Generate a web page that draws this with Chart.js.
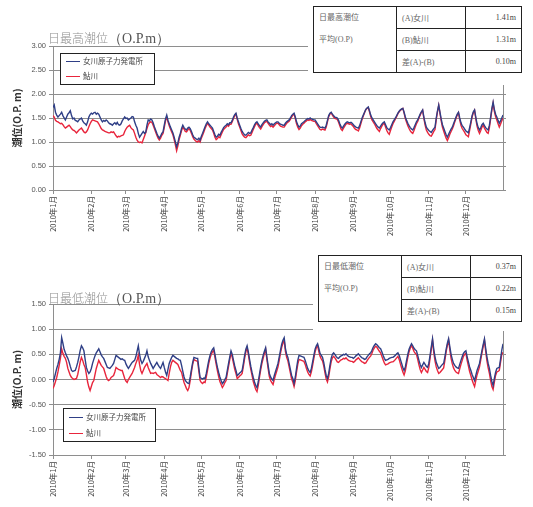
<!DOCTYPE html>
<html>
<head>
<meta charset="utf-8">
<script src="https://cdn.jsdelivr.net/npm/chart.js@4/dist/chart.umd.min.js"></script>
<style>
html,body{margin:0;padding:0;background:#fff;}
body{width:533px;height:507px;position:relative;overflow:hidden;font-family:"Noto Sans CJK JP",sans-serif;}
canvas{position:absolute;left:0;}
#c1{top:0;}
#c2{top:250px;}
.ttl{position:absolute;white-space:nowrap;color:#8f8f8f;line-height:1;}
.ttl .jp{font-size:12px;font-weight:300;font-family:"Noto Sans CJK JP",sans-serif;}
.ttl .op{font-size:14px;font-family:"Liberation Serif","DejaVu Serif",serif;color:#555;}
.mask{position:absolute;background:#fff;}
table.stat{position:absolute;border-collapse:collapse;font-size:8px;color:#666;background:#fff;
  font-family:"Liberation Serif","Noto Sans CJK JP",serif;}
table.stat td{border:1px solid #222;padding:0 5px;height:21px;vertical-align:middle;white-space:nowrap;}
table.stat td.hd{vertical-align:top;line-height:22px;padding-top:0;}
table.stat td.v{text-align:right;color:#444;}
</style>
</head>
<body>
<canvas id="c1" width="533" height="250"></canvas>
<canvas id="c2" width="533" height="257"></canvas>

<div class="mask" style="left:308px;top:3px;width:225px;height:82px;"></div>
<table class="stat" id="t1" style="left:313px;top:6px;width:209px;">
  <tr><td class="hd" rowspan="3" style="width:72px;"><span id="t1h1"></span><br><span id="t1h2"></span></td><td style="width:58px;"></td><td class="v"></td></tr>
  <tr><td></td><td class="v"></td></tr>
  <tr><td></td><td class="v"></td></tr>
</table>

<div class="mask" style="left:313px;top:252px;width:220px;height:79px;"></div>
<table class="stat" id="t2" style="left:318px;top:255px;width:204px;">
  <tr><td class="hd" rowspan="3" style="width:72px;"><span id="t2h1"></span><br><span id="t2h2"></span></td><td style="width:58px;"></td><td class="v"></td></tr>
  <tr><td></td><td class="v"></td></tr>
  <tr><td></td><td class="v"></td></tr>
</table>

<div class="ttl" style="left:48px;top:28px;"><span class="jp">日最高潮位</span><span class="op">（O.P.m）</span></div>
<div class="ttl" style="left:48px;top:288px;"><span class="jp">日最低潮位</span><span class="op">（O.P.m）</span></div>

<script>
// Month boundaries (day of year, 2010) and their axis labels
const monthStarts = [0, 31, 59, 90, 120, 151, 181, 212, 243, 273, 304, 334];
const monthLabels = ['2010年1月','2010年2月','2010年3月','2010年4月','2010年5月','2010年6月',
                     '2010年7月','2010年8月','2010年9月','2010年10月','2010年11月','2010年12月'];

const seriesNames = ['女川原子力発電所', '鮎川'];

// Daily highest tide level (O.P. m), 2010
const highOnagawa = [
1.72,1.77,1.62,1.56,1.52,1.55,1.58,1.62,1.55,1.50,
1.46,1.52,1.58,1.61,1.65,1.55,1.48,1.50,1.45,1.44,
1.42,1.46,1.48,1.50,1.44,1.40,1.38,1.35,1.42,1.52,
1.57,1.60,1.58,1.61,1.62,1.58,1.60,1.58,1.52,1.46,
1.42,1.45,1.43,1.46,1.44,1.40,1.38,1.37,1.35,1.38,
1.40,1.37,1.41,1.36,1.35,1.38,1.44,1.48,1.52,1.49,
1.50,1.46,1.48,1.50,1.53,1.52,1.42,1.35,1.29,1.18,
1.10,1.14,1.18,1.22,1.18,1.20,1.35,1.46,1.44,1.48,
1.46,1.40,1.32,1.25,1.18,1.12,1.08,1.12,1.18,1.21,
1.35,1.48,1.56,1.45,1.38,1.31,1.25,1.19,1.10,1.00,
0.90,0.98,1.10,1.18,1.28,1.35,1.30,1.27,1.25,1.29,
1.31,1.28,1.22,1.15,1.10,1.08,1.06,1.05,1.08,1.04,
1.12,1.18,1.25,1.32,1.38,1.42,1.38,1.35,1.32,1.29,
1.22,1.15,1.10,1.12,1.16,1.14,1.20,1.25,1.30,1.33,
1.35,1.38,1.36,1.40,1.40,1.45,1.52,1.57,1.60,1.50,
1.42,1.35,1.28,1.22,1.18,1.15,1.14,1.17,1.20,1.18,
1.19,1.25,1.30,1.36,1.40,1.42,1.38,1.34,1.31,1.36,
1.40,1.43,1.45,1.46,1.42,1.39,1.36,1.38,1.35,1.38,
1.40,1.42,1.42,1.39,1.37,1.36,1.35,1.35,1.39,1.42,
1.44,1.46,1.50,1.55,1.58,1.60,1.52,1.42,1.36,1.31,
1.33,1.38,1.40,1.42,1.45,1.47,1.49,1.48,1.50,1.48,
1.47,1.46,1.46,1.42,1.38,1.34,1.31,1.30,1.31,1.30,
1.29,1.35,1.45,1.55,1.60,1.62,1.58,1.55,1.52,1.51,
1.50,1.45,1.38,1.32,1.29,1.33,1.37,1.40,1.42,1.41,
1.40,1.41,1.39,1.36,1.33,1.31,1.30,1.29,1.34,1.42,
1.50,1.56,1.62,1.68,1.71,1.73,1.65,1.56,1.50,1.46,
1.42,1.38,1.34,1.31,1.29,1.33,1.37,1.40,1.42,1.36,
1.30,1.27,1.25,1.30,1.36,1.42,1.46,1.50,1.55,1.60,
1.64,1.67,1.69,1.70,1.62,1.52,1.45,1.39,1.34,1.30,
1.27,1.25,1.30,1.36,1.42,1.46,1.52,1.58,1.63,1.67,
1.52,1.40,1.31,1.27,1.24,1.22,1.20,1.24,1.28,1.31,
1.50,1.65,1.77,1.62,1.48,1.36,1.29,1.22,1.15,1.10,
1.16,1.22,1.27,1.31,1.38,1.45,1.52,1.58,1.62,1.50,
1.40,1.34,1.31,1.27,1.23,1.21,1.19,1.30,1.42,1.55,
1.63,1.67,1.52,1.38,1.30,1.25,1.30,1.36,1.39,1.34,
1.30,1.27,1.25,1.35,1.52,1.70,1.83,1.68,1.58,1.52,
1.45,1.39,1.44,1.50,1.56
];
const highAyukawa = [
1.55,1.52,1.45,1.43,1.42,1.40,1.38,1.39,1.36,1.32,
1.29,1.31,1.33,1.35,1.32,1.28,1.25,1.24,1.22,1.19,
1.22,1.25,1.27,1.29,1.25,1.21,1.19,1.21,1.25,1.32,
1.38,1.43,1.46,1.45,1.44,1.43,1.42,1.38,1.33,1.28,
1.25,1.24,1.22,1.21,1.20,1.19,1.19,1.21,1.20,1.21,
1.17,1.13,1.10,1.12,1.11,1.13,1.14,1.15,1.22,1.27,
1.31,1.33,1.35,1.30,1.27,1.25,1.18,1.10,1.04,1.00,
0.99,1.00,0.98,1.05,1.12,1.19,1.28,1.36,1.40,1.42,
1.41,1.35,1.28,1.21,1.14,1.08,1.04,1.08,1.14,1.18,
1.30,1.44,1.52,1.42,1.34,1.27,1.21,1.15,1.05,0.94,
0.82,0.92,1.05,1.14,1.24,1.31,1.27,1.22,1.21,1.25,
1.28,1.24,1.18,1.11,1.06,1.03,1.01,1.00,1.03,1.00,
1.08,1.14,1.21,1.28,1.34,1.39,1.35,1.31,1.28,1.25,
1.18,1.10,1.05,1.07,1.11,1.09,1.15,1.21,1.26,1.29,
1.31,1.35,1.33,1.37,1.37,1.42,1.49,1.55,1.58,1.47,
1.38,1.31,1.24,1.17,1.13,1.10,1.09,1.12,1.15,1.13,
1.14,1.20,1.26,1.32,1.37,1.39,1.34,1.30,1.27,1.32,
1.36,1.40,1.42,1.43,1.39,1.35,1.32,1.34,1.31,1.34,
1.37,1.39,1.39,1.36,1.33,1.32,1.31,1.31,1.35,1.39,
1.41,1.43,1.47,1.52,1.56,1.58,1.49,1.38,1.31,1.26,
1.29,1.34,1.37,1.39,1.42,1.44,1.46,1.45,1.47,1.45,
1.44,1.43,1.43,1.38,1.34,1.30,1.26,1.25,1.27,1.26,
1.25,1.31,1.42,1.53,1.58,1.61,1.56,1.52,1.49,1.48,
1.47,1.41,1.34,1.27,1.24,1.29,1.33,1.37,1.39,1.38,
1.37,1.38,1.35,1.32,1.28,1.26,1.25,1.23,1.29,1.38,
1.47,1.54,1.61,1.67,1.70,1.72,1.63,1.53,1.46,1.42,
1.38,1.33,1.28,1.25,1.22,1.28,1.33,1.37,1.39,1.31,
1.24,1.19,1.16,1.24,1.31,1.38,1.43,1.48,1.53,1.59,
1.63,1.66,1.68,1.70,1.60,1.49,1.41,1.34,1.28,1.23,
1.20,1.18,1.24,1.31,1.38,1.43,1.50,1.56,1.62,1.66,
1.49,1.35,1.25,1.20,1.16,1.13,1.12,1.17,1.22,1.26,
1.46,1.63,1.76,1.60,1.44,1.31,1.23,1.15,1.08,1.03,
1.09,1.16,1.22,1.27,1.34,1.42,1.49,1.56,1.61,1.46,
1.35,1.28,1.24,1.20,1.15,1.13,1.11,1.24,1.38,1.52,
1.61,1.66,1.48,1.33,1.24,1.18,1.24,1.31,1.35,1.29,
1.24,1.20,1.18,1.30,1.48,1.67,1.81,1.64,1.53,1.46,
1.38,1.31,1.37,1.44,1.50
];

// Daily lowest tide level (O.P. m), 2010
const lowOnagawa = [
-0.05,0.02,0.12,0.22,0.30,0.40,0.53,0.83,0.72,0.60,
0.53,0.47,0.42,0.35,0.26,0.18,0.16,0.17,0.18,0.25,
0.34,0.45,0.58,0.67,0.63,0.57,0.40,0.24,0.17,0.12,
0.15,0.22,0.32,0.40,0.47,0.53,0.57,0.61,0.55,0.49,
0.45,0.42,0.36,0.30,0.24,0.23,0.22,0.25,0.28,0.32,
0.40,0.48,0.46,0.44,0.42,0.40,0.41,0.39,0.38,0.31,
0.26,0.22,0.26,0.30,0.34,0.36,0.38,0.45,0.56,0.67,
0.50,0.38,0.32,0.36,0.42,0.48,0.57,0.45,0.38,0.32,
0.27,0.22,0.26,0.30,0.34,0.29,0.25,0.22,0.28,0.34,
0.24,0.15,0.08,0.20,0.32,0.38,0.44,0.48,0.46,0.44,
0.42,0.41,0.39,0.38,0.28,0.16,0.05,-0.02,-0.05,-0.07,
-0.08,0.05,0.20,0.34,0.44,0.43,0.42,0.42,0.22,0.04,
0.02,0.01,0.03,0.02,0.12,0.25,0.38,0.48,0.55,0.60,
0.63,0.50,0.36,0.24,0.14,0.05,-0.02,-0.08,-0.05,0.00,
0.04,0.18,0.32,0.45,0.57,0.50,0.38,0.27,0.18,0.08,
0.10,0.13,0.15,0.18,0.32,0.48,0.60,0.67,0.55,0.40,
0.26,0.14,0.04,-0.05,-0.12,-0.16,-0.05,0.10,0.25,0.38,
0.48,0.56,0.63,0.45,0.28,0.12,0.05,0.01,-0.02,0.08,
0.16,0.24,0.32,0.45,0.58,0.70,0.78,0.83,0.62,0.50,
0.44,0.32,0.20,0.08,0.02,-0.08,0.05,0.22,0.38,0.48,
0.47,0.46,0.45,0.44,0.38,0.30,0.22,0.17,0.14,0.22,
0.35,0.48,0.60,0.67,0.71,0.62,0.52,0.48,0.44,0.34,
0.20,0.08,0.02,0.12,0.28,0.42,0.50,0.53,0.50,0.46,
0.43,0.42,0.45,0.47,0.48,0.50,0.49,0.51,0.48,0.46,
0.45,0.44,0.44,0.42,0.44,0.47,0.49,0.51,0.48,0.45,
0.43,0.42,0.40,0.41,0.45,0.48,0.51,0.53,0.58,0.64,
0.68,0.71,0.69,0.66,0.63,0.61,0.55,0.48,0.42,0.38,
0.39,0.40,0.42,0.43,0.44,0.44,0.46,0.48,0.51,0.53,
0.48,0.40,0.32,0.24,0.18,0.25,0.38,0.50,0.60,0.66,
0.71,0.67,0.62,0.59,0.57,0.48,0.38,0.30,0.24,0.29,
0.34,0.30,0.26,0.24,0.32,0.48,0.65,0.81,0.60,0.45,
0.34,0.28,0.22,0.24,0.27,0.30,0.32,0.45,0.60,0.72,
0.81,0.65,0.50,0.40,0.32,0.28,0.25,0.23,0.22,0.30,
0.38,0.45,0.52,0.55,0.57,0.45,0.35,0.25,0.18,0.10,
0.04,-0.02,0.08,0.18,0.25,0.32,0.45,0.58,0.70,0.81,
0.62,0.45,0.32,0.22,0.08,-0.04,-0.12,0.02,0.14,0.22,
0.23,0.24,0.40,0.58,0.71
];
const lowAyukawa = [
-0.18,-0.12,-0.04,0.04,0.15,0.28,0.42,0.61,0.52,0.46,
0.42,0.34,0.22,0.15,0.08,0.04,0.02,0.00,0.01,0.02,
0.10,0.22,0.35,0.44,0.38,0.30,0.24,0.10,-0.05,-0.15,
-0.22,-0.14,-0.06,-0.02,0.10,0.22,0.30,0.38,0.33,0.28,
0.25,0.22,0.14,0.06,0.00,-0.02,0.00,0.04,0.06,0.08,
0.15,0.24,0.22,0.20,0.19,0.18,0.18,0.10,0.02,-0.03,
-0.06,0.00,0.04,0.08,0.12,0.18,0.24,0.32,0.38,0.48,
0.30,0.18,0.12,0.18,0.24,0.28,0.32,0.24,0.18,0.12,
0.13,0.12,0.13,0.14,0.10,0.08,0.06,0.04,0.06,0.05,
0.03,0.02,0.00,-0.02,0.12,0.25,0.34,0.38,0.36,0.34,
0.32,0.30,0.24,0.18,0.14,0.04,-0.06,-0.12,-0.18,-0.22,
-0.16,-0.02,0.15,0.30,0.40,0.38,0.37,0.36,0.16,-0.02,
-0.06,-0.08,-0.05,-0.06,0.05,0.18,0.32,0.42,0.50,0.55,
0.58,0.44,0.30,0.17,0.06,-0.04,-0.10,-0.16,-0.12,-0.06,
-0.02,0.12,0.26,0.40,0.52,0.44,0.32,0.20,0.12,0.02,
0.04,0.07,0.09,0.12,0.26,0.42,0.55,0.63,0.50,0.34,
0.20,0.08,-0.04,-0.12,-0.20,-0.24,-0.12,0.04,0.19,0.32,
0.42,0.52,0.60,0.40,0.22,0.06,-0.02,-0.06,-0.10,0.00,
0.09,0.17,0.25,0.38,0.52,0.64,0.72,0.78,0.56,0.44,
0.37,0.25,0.13,0.01,-0.05,-0.14,-0.02,0.15,0.30,0.40,
0.39,0.38,0.37,0.36,0.30,0.22,0.15,0.10,0.07,0.15,
0.28,0.42,0.55,0.63,0.68,0.56,0.46,0.41,0.37,0.27,
0.13,0.01,-0.05,0.05,0.21,0.35,0.43,0.46,0.43,0.39,
0.35,0.34,0.37,0.39,0.40,0.42,0.41,0.43,0.40,0.38,
0.37,0.36,0.36,0.34,0.36,0.39,0.41,0.43,0.40,0.37,
0.35,0.34,0.32,0.33,0.37,0.41,0.44,0.47,0.52,0.59,
0.63,0.66,0.64,0.60,0.56,0.53,0.46,0.39,0.33,0.29,
0.30,0.31,0.33,0.34,0.35,0.35,0.37,0.40,0.43,0.46,
0.40,0.31,0.23,0.15,0.09,0.17,0.31,0.44,0.55,0.62,
0.68,0.62,0.56,0.52,0.50,0.40,0.29,0.20,0.14,0.19,
0.24,0.20,0.16,0.14,0.24,0.42,0.60,0.78,0.54,0.37,
0.25,0.18,0.12,0.14,0.17,0.20,0.23,0.38,0.55,0.68,
0.78,0.59,0.42,0.31,0.23,0.18,0.15,0.13,0.12,0.21,
0.30,0.38,0.46,0.50,0.52,0.38,0.27,0.16,0.08,-0.01,
-0.08,-0.14,-0.02,0.09,0.17,0.25,0.39,0.53,0.66,0.78,
0.56,0.37,0.23,0.12,-0.02,-0.14,-0.20,-0.05,0.08,0.15,
0.16,0.18,0.34,0.50,0.54
];

// Yearly means shown in the summary tables
const highTable = { head: ['日最高潮位', '平均(O.P)'], rows: ['(A)女川', '(B)鮎川', '差(A)-(B)'], values: ['1.41m', '1.31m', '0.10m'] };
const lowTable  = { head: ['日最低潮位', '平均(O.P)'], rows: ['(A)女川', '(B)鮎川', '差(A)-(B)'], values: ['0.37m', '0.22m', '0.15m'] };

function fillTable(id, t) {
  const tbl = document.getElementById(id);
  document.getElementById(id + 'h1').textContent = t.head[0];
  document.getElementById(id + 'h2').textContent = t.head[1];
  [...tbl.rows].forEach((tr, i) => {
    const cells = [...tr.cells];
    const off = cells.length - 2;
    cells[off].textContent = t.rows[i];
    cells[off + 1].textContent = t.values[i];
  });
}
fillTable('t1', highTable);
fillTable('t2', lowTable);

const COLOR_A = '#2f3f86';
const COLOR_B = '#e8253c';
const GRID = '#8e8e8e';

// Framed legend drawn inside the plot area
const boxLegend = {
  id: 'boxLegend',
  afterDraw(chart, args, opts) {
    const ctx = chart.ctx;
    const {x, y, w, h, gap} = opts;
    ctx.save();
    ctx.fillStyle = '#fff';
    ctx.fillRect(x, y, w, h);
    ctx.strokeStyle = '#222';
    ctx.lineWidth = 1;
    ctx.strokeRect(x + 0.5, y + 0.5, w, h);
    ctx.font = '7.5px "Noto Sans CJK JP"';
    ctx.textBaseline = 'middle';
    chart.data.datasets.forEach((ds, i) => {
      const ly = Math.round(y + opts.first + i * gap) + 0.5;
      ctx.strokeStyle = ds.borderColor;
      ctx.lineWidth = 1;
      ctx.beginPath();
      ctx.moveTo(x + 6, ly);
      ctx.lineTo(x + 20, ly);
      ctx.stroke();
      ctx.fillStyle = '#444';
      ctx.fillText(ds.label, x + 23, ly);
    });
    ctx.restore();
  }
};

function toPoints(arr) { return arr.map((v, i) => ({x: i, y: v})); }

function halfSteps(yMin, yMax) {
  const t = [];
  for (let v = yMin; v <= yMax + 1e-9; v += 0.5) t.push({value: Math.round(v * 100) / 100});
  return t;
}

function makeChart(canvasId, a, b, yMin, yMax, padTop, xHeight, legend) {
  return new Chart(document.getElementById(canvasId), {
    type: 'line',
    data: {
      datasets: [
        {label: seriesNames[0], data: toPoints(a), borderColor: COLOR_A, borderWidth: 1.4, pointRadius: 0, tension: 0, fill: false},
        {label: seriesNames[1], data: toPoints(b), borderColor: COLOR_B, borderWidth: 1.4, pointRadius: 0, tension: 0, fill: false}
      ]
    },
    options: {
      responsive: false,
      animation: false,
      devicePixelRatio: 1,
      layout: {padding: {top: padTop, left: 0, right: 0, bottom: 0}},
      plugins: {legend: {display: false}, tooltip: {enabled: false}, title: {display: false}, boxLegend: legend},
      scales: {
        x: {
          type: 'linear', min: 0, max: 364,
          afterBuildTicks: s => { s.ticks = monthStarts.map(v => ({value: v})); },
          afterFit: s => { s.height = xHeight; },
          ticks: {autoSkip: false, maxRotation: 90, minRotation: 90, padding: 2, color: '#444',
                  font: {family: '"Noto Sans CJK JP"', size: 7.5},
                  callback: (v, i) => monthLabels[i]},
          grid: {drawOnChartArea: false, drawTicks: true, tickLength: 4, color: GRID},
          border: {display: true, color: GRID, width: 1}
        },
        y: {
          min: yMin, max: yMax,
          afterBuildTicks: s => { s.ticks = halfSteps(yMin, yMax); },
          afterFit: s => { s.width = 53; },
          ticks: {padding: 3, color: '#555', font: {family: '"Liberation Sans"', size: 7.5},
                  callback: v => v.toFixed(2)},
          grid: {color: GRID, lineWidth: 1, drawTicks: true, tickLength: 4},
          border: {display: true, color: GRID, width: 1},
          title: {display: true, text: '潮位(O.P. m)', color: '#333', padding: {top: 11, bottom: 0},
                  font: {family: '"Noto Sans CJK JP"', size: 10, weight: 'bold'}}
        },
        y2: {
          position: 'right', min: yMin, max: yMax,
          afterBuildTicks: s => { s.ticks = halfSteps(yMin, yMax); },
          afterFit: s => { s.width = 30; },
          ticks: {display: false},
          grid: {drawOnChartArea: false, drawTicks: true, tickLength: 3, color: GRID},
          border: {display: true, color: GRID, width: 1}
        }
      }
    },
    plugins: [boxLegend]
  });
}

makeChart('c1', highOnagawa, highAyukawa, 0, 3, 46, 60,
  {x: 60, y: 53, w: 94, h: 31, first: 8, gap: 15});
makeChart('c2', lowOnagawa, lowAyukawa, -1.5, 1.5, 54, 52,
  {x: 63, y: 158, w: 92, h: 33, first: 9, gap: 16});
</script>
</body>
</html>
